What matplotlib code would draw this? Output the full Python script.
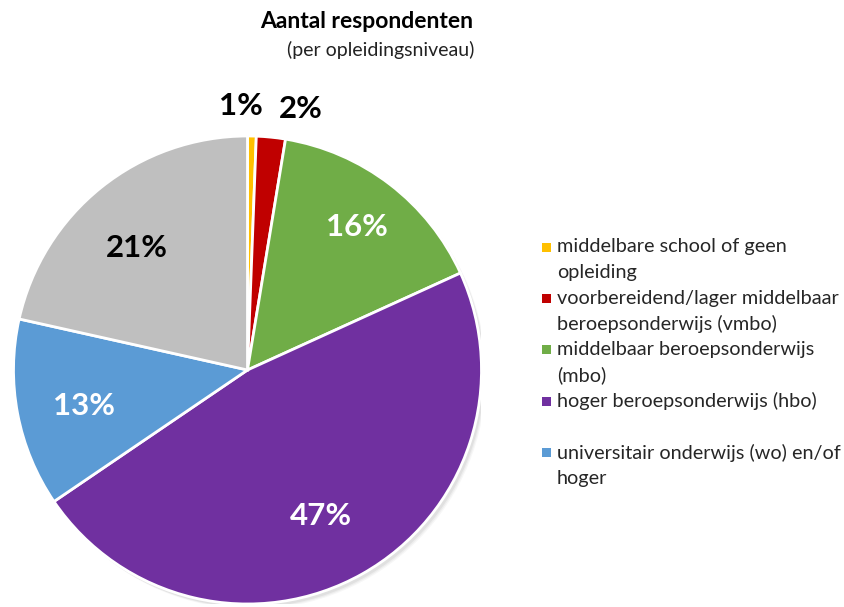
import numpy as np
import matplotlib
matplotlib.use("Agg")
import matplotlib.pyplot as plt
from matplotlib.patches import Rectangle

plt.rcParams['font.family'] = ['Lato', 'DejaVu Sans']

# Data (share of respondents, %)
categories = [
    "middelbare school of geen opleiding",
    "voorbereidend/lager middelbaar beroepsonderwijs (vmbo)",
    "middelbaar beroepsonderwijs (mbo)",
    "hoger beroepsonderwijs (hbo)",
    "universitair onderwijs (wo) en/of hoger",
    "overig",
]
values = [0.6, 2.0, 15.6, 47.3, 13.0, 21.5]
pct_labels = ["1%", "2%", "16%", "47%", "13%", "21%"]
legend_lines = [
    ["middelbare school of geen", "opleiding"],
    ["voorbereidend/lager middelbaar", "beroepsonderwijs (vmbo)"],
    ["middelbaar beroepsonderwijs", "(mbo)"],
    ["hoger beroepsonderwijs (hbo)", ""],
    ["universitair onderwijs (wo) en/of", "hoger"],
]
colors = ["#FFC000", "#C00000", "#70AD47", "#7030A0", "#5B9BD5", "#BFBFBF"]
label_colors = ["black", "black", "white", "white", "white", "black"]

W, H = 844, 607
fig = plt.figure(figsize=(W / 100, H / 100), dpi=100)

cx, cy, r = 247.5, 370, 234
ax = fig.add_axes([(cx - r) / W, (H - cy - r) / H, 2 * r / W, 2 * r / H])

wedges, _ = ax.pie(values, colors=colors, startangle=90, counterclock=False,
                   radius=1.0, wedgeprops=dict(edgecolor='white', linewidth=2))
for w in wedges:
    w.set_zorder(1)

# soft shadow
for i, a in enumerate([0.05, 0.04, 0.03]):
    ax.add_patch(plt.Circle((0.012 + 0.004 * i, -0.014 - 0.004 * i), 1.0,
                            color='black', alpha=a, lw=0, zorder=0))

ax.set_xlim(-1, 1)
ax.set_ylim(-1, 1)
ax.set_aspect('equal')
ax.axis('off')

total = sum(values)
cum = 0
dists = [1.13, 1.13, 0.77, 0.68, 0.71, 0.705]
xoffs = [-0.05, 0.116, 0, -0.02, 0, -0.03]
yoffs = [0, -0.01, 0, -0.03, -0.02, -0.03]
for i, v in enumerate(values):
    mid = (cum + v / 2) / total
    cum += v
    ang = np.deg2rad(90 - 360 * mid)
    x = dists[i] * np.cos(ang) + xoffs[i]
    y = dists[i] * np.sin(ang) + yoffs[i]
    ax.text(x, y, pct_labels[i], ha='center', va='center', fontsize=22.5,
            fontweight='bold', color=label_colors[i], zorder=3)

# Titles
fig.text(367 / W, 1 - 22 / H, "Aantal respondenten", ha='center', va='center',
         fontsize=16.5, fontweight='bold', color='black')
fig.text(381 / W, 1 - 50 / H, "(per opleidingsniveau)", ha='center', va='center',
         fontsize=14, color='#222222')

# Legend (manual, first line aligned with marker)
y0 = 247
step = 25.7
line = 0
for i, lines in enumerate(legend_lines):
    yy = y0 + line * step
    fig.patches.append(Rectangle(((546 - 4.5) / W, 1 - (yy + 4.5) / H), 9 / W, 9 / H,
                                 transform=fig.transFigure, facecolor=colors[i],
                                 edgecolor='none'))
    for j, t in enumerate(lines):
        fig.text(557 / W, 1 - (yy + j * step) / H, t, ha='left', va='center',
                 fontsize=14.3, color='#262626')
    line += len(lines)

fig.savefig("out.png", dpi=100)
